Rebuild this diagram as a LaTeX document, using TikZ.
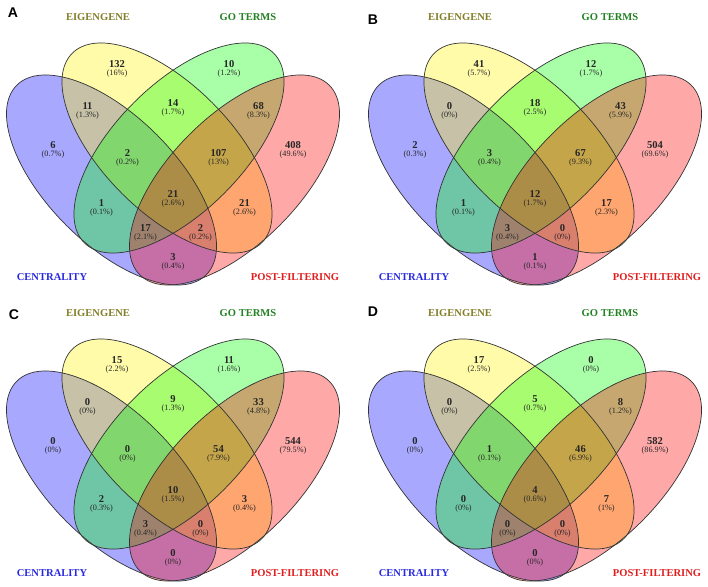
\documentclass[tikz,border=0pt]{standalone}
\usepackage{fontspec}
\setmainfont{Liberation Serif}
\newfontfamily\panelfont{Liberation Sans}
\usetikzlibrary{positioning}
\definecolor{cateig}{RGB}{130,125,40}
\definecolor{catgo}{RGB}{35,130,35}
\definecolor{catcen}{RGB}{40,40,225}
\definecolor{catpost}{RGB}{225,30,30}
\tikzset{
  setfill/.style={fill=#1, fill opacity=0.34},
  setline/.style={draw=black!80, line width=0.6pt},
  cnt/.style={align=center, inner sep=0pt, text=black!85, font=\fontsize{9}{6.5}\selectfont\bfseries},
  cat/.style={inner sep=0pt, font=\fontsize{9}{10}\selectfont\bfseries},
  panel/.style={inner sep=0pt, font=\panelfont\fontsize{12}{12}\selectfont\bfseries}}
\newcommand{\pc}[1]{{\fontsize{7}{6.5}\selectfont\mdseries(#1\%)}}
% the four sets of one panel, fills first, outlines on top
\newcommand{\vennsets}[1]{%
  \fill[setfill=blue, rotate around={-45:(111.5,180)}] (111.5,180) ellipse [x radius=134, y radius=64];
  \fill[setfill=yellow, rotate around={-45:(167,148)}] (167,148) ellipse [x radius=134, y radius=64];
  \fill[setfill=green, rotate around={45:(179,148)}] (179,148) ellipse [x radius=134, y radius=64];
  \fill[setfill=red, rotate around={45:(234.5,180)}] (234.5,180) ellipse [x radius=134, y radius=64];
  \draw[setline, rotate around={-45:(111.5,180)}] (111.5,180) ellipse [x radius=134, y radius=64];
  \draw[setline, rotate around={-45:(167,148)}] (167,148) ellipse [x radius=134, y radius=64];
  \draw[setline, rotate around={45:(179,148)}] (179,148) ellipse [x radius=134, y radius=64];
  \draw[setline, rotate around={45:(234.5,180)}] (234.5,180) ellipse [x radius=134, y radius=64];
  \node[cat, text=cateig] (#1-eig) at (98,17) {EIGENGENE};
  \node[cat, text=catgo] (#1-go) at (248,17) {GO TERMS};
  \node[cat, text=catcen] (#1-cen) at (52,277) {CENTRALITY};
  \node[cat, text=catpost] (#1-post) at (295,277) {POST-FILTERING};}

\begin{document}
\begin{tikzpicture}[x=0.03cm, y=-0.03cm]
  \useasboundingbox (0,0) rectangle (708,586);
  % A
  \begin{scope}
    \vennsets{A}
    \node[panel] (A) at (13,13) {A};
    \node[cnt] (A-e)   at (117,69)    {132\\\pc{16}};
    \node[cnt] (A-g)   at (229,69)    {10\\\pc{1.2}};
    \node[cnt] (A-ce)  at (87.5,111)  {11\\\pc{1.3}};
    \node[cnt] (A-eg)  at (173,108)   {14\\\pc{1.7}};
    \node[cnt] (A-gp)  at (258.5,111) {68\\\pc{8.3}};
    \node[cnt] (A-c)   at (53,150)    {6\\\pc{0.7}};
    \node[cnt] (A-ceg) at (127.5,158) {2\\\pc{0.2}};
    \node[cnt] (A-egp) at (218.5,158) {107\\\pc{13}};
    \node[cnt] (A-p)   at (293,150)   {408\\\pc{49.6}};
    \node[cnt] (A-all) at (173,199)   {21\\\pc{2.6}};
    \node[cnt] (A-cg)  at (101.5,208) {1\\\pc{0.1}};
    \node[cnt] (A-ep)  at (244.5,208) {21\\\pc{2.6}};
    \node[cnt] (A-cgp) at (145.5,233) {17\\\pc{2.1}};
    \node[cnt] (A-cep) at (200.5,233) {2\\\pc{0.2}};
    \node[cnt] (A-cp)  at (173,262)   {3\\\pc{0.4}};
  \end{scope}
  % B
  \begin{scope}[shift={(362,0)}]
    \vennsets{B}
    \node[panel] (B) at (11,20) {B};
    \node[cnt] (B-e)   at (117,69)    {41\\\pc{5.7}};
    \node[cnt] (B-g)   at (229,69)    {12\\\pc{1.7}};
    \node[cnt] (B-ce)  at (87.5,111)  {0\\\pc{0}};
    \node[cnt] (B-eg)  at (173,108)   {18\\\pc{2.5}};
    \node[cnt] (B-gp)  at (258.5,111) {43\\\pc{5.9}};
    \node[cnt] (B-c)   at (53,150)    {2\\\pc{0.3}};
    \node[cnt] (B-ceg) at (127.5,158) {3\\\pc{0.4}};
    \node[cnt] (B-egp) at (218.5,158) {67\\\pc{9.3}};
    \node[cnt] (B-p)   at (293,150)   {504\\\pc{69.6}};
    \node[cnt] (B-all) at (173,199)   {12\\\pc{1.7}};
    \node[cnt] (B-cg)  at (101.5,208) {1\\\pc{0.1}};
    \node[cnt] (B-ep)  at (244.5,208) {17\\\pc{2.3}};
    \node[cnt] (B-cgp) at (145.5,233) {3\\\pc{0.4}};
    \node[cnt] (B-cep) at (200.5,233) {0\\\pc{0}};
    \node[cnt] (B-cp)  at (173,262)   {1\\\pc{0.1}};
  \end{scope}
  % C
  \begin{scope}[shift={(0,296)}]
    \vennsets{C}
    \node[panel] (C) at (14,19) {C};
    \node[cnt] (C-e)   at (117,69)    {15\\\pc{2.2}};
    \node[cnt] (C-g)   at (229,69)    {11\\\pc{1.6}};
    \node[cnt] (C-ce)  at (87.5,111)  {0\\\pc{0}};
    \node[cnt] (C-eg)  at (173,108)   {9\\\pc{1.3}};
    \node[cnt] (C-gp)  at (258.5,111) {33\\\pc{4.8}};
    \node[cnt] (C-c)   at (53,150)    {0\\\pc{0}};
    \node[cnt] (C-ceg) at (127.5,158) {0\\\pc{0}};
    \node[cnt] (C-egp) at (218.5,158) {54\\\pc{7.9}};
    \node[cnt] (C-p)   at (293,150)   {544\\\pc{79.5}};
    \node[cnt] (C-all) at (173,199)   {10\\\pc{1.5}};
    \node[cnt] (C-cg)  at (101.5,208) {2\\\pc{0.3}};
    \node[cnt] (C-ep)  at (244.5,208) {3\\\pc{0.4}};
    \node[cnt] (C-cgp) at (145.5,233) {3\\\pc{0.4}};
    \node[cnt] (C-cep) at (200.5,233) {0\\\pc{0}};
    \node[cnt] (C-cp)  at (173,262)   {0\\\pc{0}};
  \end{scope}
  % D
  \begin{scope}[shift={(362,296)}]
    \vennsets{D}
    \node[panel] (D) at (11,16) {D};
    \node[cnt] (D-e)   at (117,69)    {17\\\pc{2.5}};
    \node[cnt] (D-g)   at (229,69)    {0\\\pc{0}};
    \node[cnt] (D-ce)  at (87.5,111)  {0\\\pc{0}};
    \node[cnt] (D-eg)  at (173,108)   {5\\\pc{0.7}};
    \node[cnt] (D-gp)  at (258.5,111) {8\\\pc{1.2}};
    \node[cnt] (D-c)   at (53,150)    {0\\\pc{0}};
    \node[cnt] (D-ceg) at (127.5,158) {1\\\pc{0.1}};
    \node[cnt] (D-egp) at (218.5,158) {46\\\pc{6.9}};
    \node[cnt] (D-p)   at (293,150)   {582\\\pc{86.9}};
    \node[cnt] (D-all) at (173,199)   {4\\\pc{0.6}};
    \node[cnt] (D-cg)  at (101.5,208) {0\\\pc{0}};
    \node[cnt] (D-ep)  at (244.5,208) {7\\\pc{1}};
    \node[cnt] (D-cgp) at (145.5,233) {0\\\pc{0}};
    \node[cnt] (D-cep) at (200.5,233) {0\\\pc{0}};
    \node[cnt] (D-cp)  at (173,262)   {0\\\pc{0}};
  \end{scope}
\end{tikzpicture}
\end{document}
